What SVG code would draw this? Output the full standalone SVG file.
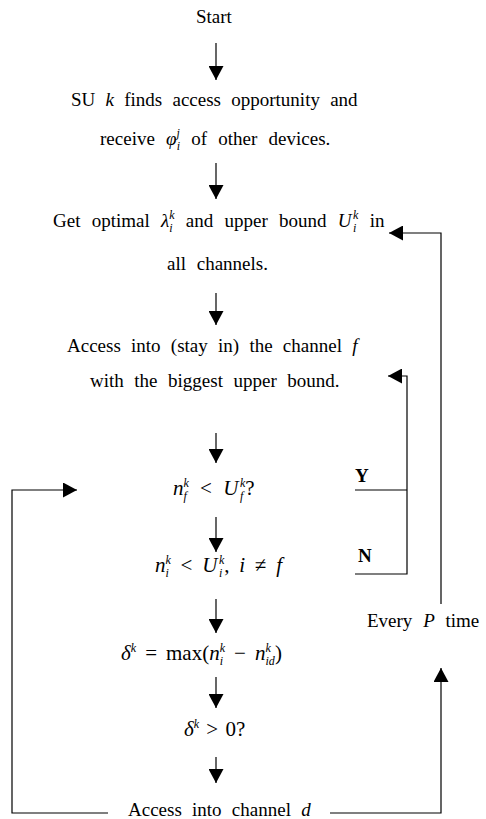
<svg xmlns="http://www.w3.org/2000/svg" width="486" height="819" viewBox="0 0 486 819">
<style>
text{font-family:"Liberation Serif","Times New Roman",serif;font-size:19px;fill:#000}
.i{font-style:italic}
.s{font-size:12px;font-style:italic}
.m{font-size:21px}
.c{fill:none;stroke:#000;stroke-width:1.2}
</style>
<defs>
<marker id="ah" viewBox="0 0 14 15" refX="14" refY="7.5" markerWidth="14" markerHeight="15" markerUnits="userSpaceOnUse" orient="auto">
<path d="M0,0 L14,7.5 L0,15 Z" fill="#000"/>
</marker>
</defs>
<rect width="486" height="819" fill="#fff"/>

<g id="start"><text x="196" y="23">Start</text></g>
<g id="n1">
<text x="71" y="106" word-spacing="5.5">SU <tspan class="i">k</tspan> finds access opportunity and</text>
<text x="100" y="145" word-spacing="6.5">receive <tspan class="i">φ</tspan><tspan class="s" dy="-8">j</tspan><tspan class="s" dx="-3.3" dy="13">i</tspan><tspan dy="-5"> of other devices.</tspan></text>
</g>
<g id="n2">
<text x="53" y="227" word-spacing="6.5">Get optimal <tspan class="i">λ</tspan><tspan class="s" dy="-8">k</tspan><tspan class="s" dx="-5.3" dy="13">i</tspan><tspan dy="-5" dx="2"> and upper bound </tspan><tspan class="i">U</tspan><tspan class="s" dy="-8" dx="1.5">k</tspan><tspan class="s" dx="-5.3" dy="13">i</tspan><tspan dy="-5" dx="2"> in</tspan></text>
<text x="167" y="270" word-spacing="6">all channels.</text>
</g>
<g id="n3">
<text x="67" y="352" word-spacing="5.5">Access into (stay in) the channel <tspan class="i">f</tspan></text>
<text x="90" y="387" word-spacing="5.8">with the biggest upper bound.</text>
</g>
<g id="n4">
<text class="m" x="173" y="495" word-spacing="6"><tspan class="i">n</tspan><tspan class="s" dy="-8">k</tspan><tspan class="s" dx="-5.3" dy="13">f</tspan><tspan dy="-5" dx="2"> &lt; </tspan><tspan class="i">U</tspan><tspan class="s" dy="-8" dx="1.5">k</tspan><tspan class="s" dx="-5.3" dy="13">f</tspan><tspan dy="-5" dx="2">?</tspan></text>
</g>
<g id="n5">
<text class="m" x="155" y="572" word-spacing="4.5"><tspan class="i">n</tspan><tspan class="s" dy="-8">k</tspan><tspan class="s" dx="-5.3" dy="13">i</tspan><tspan dy="-5" dx="2"> &lt; </tspan><tspan class="i">U</tspan><tspan class="s" dy="-8" dx="1.5">k</tspan><tspan class="s" dx="-5.3" dy="13">i</tspan><tspan dy="-5" dx="2">, </tspan><tspan class="i">i</tspan> ≠ <tspan class="i">f</tspan></text>
</g>
<g id="n6">
<text class="m" x="121" y="660" word-spacing="3.8"><tspan class="i">δ</tspan><tspan class="s" dy="-8">k</tspan><tspan dy="8"> = max(</tspan><tspan class="i">n</tspan><tspan class="s" dy="-8">k</tspan><tspan class="s" dx="-5.3" dy="13">i</tspan><tspan dy="-5" dx="2"> − </tspan><tspan class="i">n</tspan><tspan class="s" dy="-8">k</tspan><tspan class="s" dx="-5.3" dy="13">id</tspan><tspan dy="-5">)</tspan></text>
</g>
<g id="n7">
<text class="m" x="184" y="736" word-spacing="2"><tspan class="i">δ</tspan><tspan class="s" dy="-8">k</tspan><tspan dy="8"> &gt; 0?</tspan></text>
</g>
<g id="n8">
<text x="128" y="816" word-spacing="5.5">Access into channel <tspan class="i">d</tspan></text>
</g>
<g id="labels">
<text x="355" y="482" font-weight="bold">Y</text>
<text x="358" y="562" font-weight="bold">N</text>
<text x="367" y="627" word-spacing="6">Every <tspan class="i">P</tspan> time</text>
</g>

<g id="connectors">
<line class="c" x1="216" y1="43" x2="216" y2="80" marker-end="url(#ah)"/>
<line class="c" x1="216" y1="163" x2="216" y2="199" marker-end="url(#ah)"/>
<line class="c" x1="216" y1="293" x2="216" y2="325" marker-end="url(#ah)"/>
<line class="c" x1="216" y1="433" x2="216" y2="463" marker-end="url(#ah)"/>
<line class="c" x1="216" y1="517" x2="216" y2="552" marker-end="url(#ah)"/>
<line class="c" x1="216" y1="599" x2="216" y2="633" marker-end="url(#ah)"/>
<line class="c" x1="216" y1="677" x2="216" y2="708" marker-end="url(#ah)"/>
<line class="c" x1="216" y1="757" x2="216" y2="783" marker-end="url(#ah)"/>
<polyline class="c" points="108,813 12,813 12,490 77,490" marker-end="url(#ah)"/>
<polyline class="c" points="330,813 441,813 441,668" marker-end="url(#ah)"/>
<polyline class="c" points="441,604 441,233 389,233" marker-end="url(#ah)"/>
<line class="c" x1="355" y1="490" x2="407" y2="490"/>
<polyline class="c" points="355,574 407,574 407,376 388,376" marker-end="url(#ah)"/>
</g>
</svg>
